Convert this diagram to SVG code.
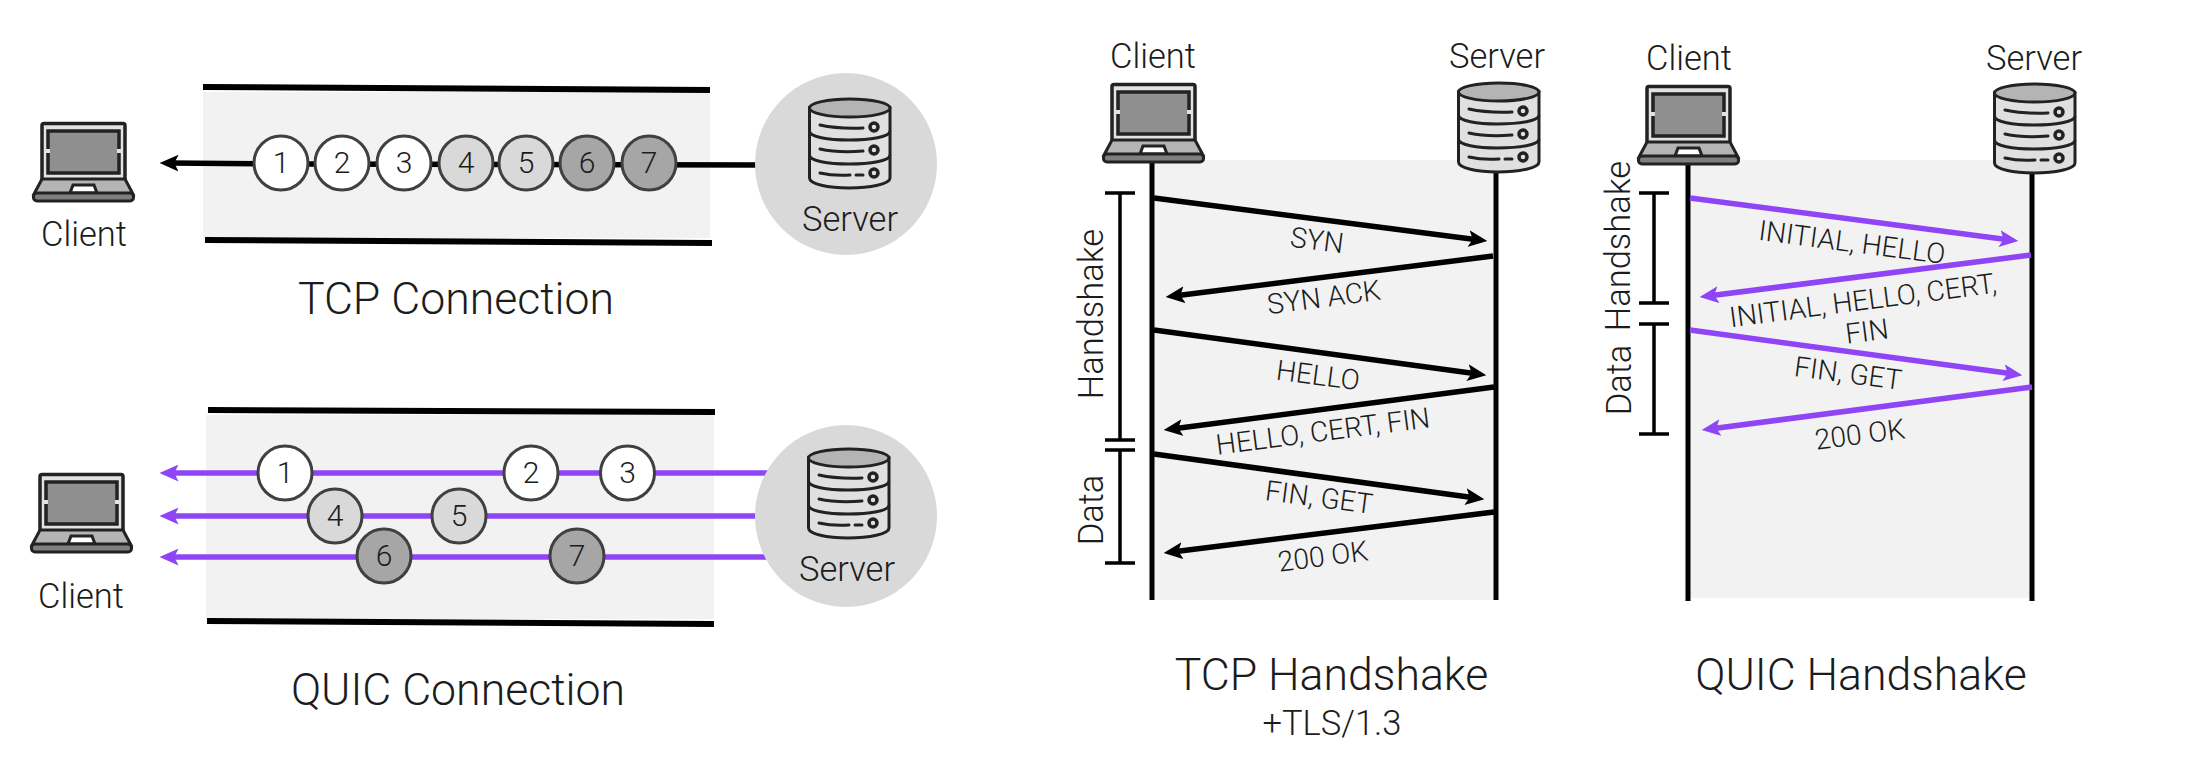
<svg xmlns="http://www.w3.org/2000/svg" xmlns:xlink="http://www.w3.org/1999/xlink" width="2198" height="759" viewBox="0 0 2198 759">
<style>
text{font-family:Roboto,"Liberation Sans",sans-serif;font-weight:300;fill:#1c1c1c;text-anchor:middle}
.t{font-size:44.600px}.l{font-size:34.500px}.n{font-size:30px}.m{font-size:28.200px}
.band{fill:#f2f2f2}
.wall{stroke:#000;stroke-width:6;fill:none}
.blk{stroke:#000;stroke-width:5.500;fill:none;marker-end:url(#ah)}
.pur{stroke:#8f45f5;stroke-width:5.500;fill:none;marker-end:url(#ap)}
.life{stroke:#000;stroke-width:5;fill:none}
.br{stroke:#000;stroke-width:3.500;fill:none}
.c1{fill:#fff;stroke:#404040;stroke-width:3}.c2{fill:#d9d9d9;stroke:#404040;stroke-width:3}.c3{fill:#a6a6a6;stroke:#404040;stroke-width:3}
.disc{fill:#d9d9d9}
</style>
<defs>
<marker id="ah" markerUnits="userSpaceOnUse" markerWidth="19" markerHeight="17" viewBox="0 0 18 16" refX="10" refY="8" orient="auto"><path d="M18 8L0 0L4 8L0 16Z" fill="#000"/></marker>
<marker id="ap" markerUnits="userSpaceOnUse" markerWidth="19" markerHeight="17" viewBox="0 0 18 16" refX="10" refY="8" orient="auto"><path d="M18 8L0 0L4 8L0 16Z" fill="#8f45f5"/></marker>
<symbol id="laptop" width="104" height="82" viewBox="0 0 104 82" overflow="visible">
<rect x="10" y="1.500" width="83" height="57" rx="2" fill="#e2e2e2" stroke="#222" stroke-width="3.500"/>
<rect x="16" y="9" width="71" height="42" fill="#8f8f8f" stroke="#222" stroke-width="3.500"/>
<path d="M16 27v4M87 27v4" stroke="#e2e2e2" stroke-width="4"/>
<path d="M10 57H93L101 72H2Z" fill="#b4b4b4" stroke="#222" stroke-width="3"/>
<path d="M38 71L41 63H62L65 71Z" fill="#fff" stroke="#222" stroke-width="3"/>
<rect x="1.500" y="71" width="100" height="8" rx="3.500" fill="#7f7f7f" stroke="#222" stroke-width="3"/>
</symbol>
<symbol id="server" width="84" height="92" viewBox="0 0 84 92" overflow="visible">
<path d="M1.500 10V80C1.500 86 20 90 41 90S82 86 82 80V10Z" fill="#e0e0e0" stroke="#222" stroke-width="3"/>
<ellipse cx="41.700" cy="10" rx="40.300" ry="9" fill="#b4b4b4" stroke="#222" stroke-width="3"/>
<path d="M1.500 33C1.500 39 20 42 41 42S82 39 82 33M1.500 57C1.500 63 20 66 41 66S82 63 82 57" fill="none" stroke="#222" stroke-width="3"/>
<path d="M12 27Q30 31 55 30M12 51Q30 55 55 53M12 75Q25 78 42 77M48 77H55" fill="none" stroke="#222" stroke-width="3" stroke-linecap="round"/>
<g fill="none" stroke="#222" stroke-width="3.500"><circle cx="66" cy="29" r="4"/><circle cx="66" cy="52" r="4"/><circle cx="66" cy="75" r="4"/></g>
</symbol>
</defs>

<g id="tcp-connection-band"><rect class="band" x="203" y="92" width="507" height="146"/><path class="wall" d="M203 87L710 90M205 240L712 243"/></g>
<g id="quic-connection-band"><rect class="band" x="206" y="415" width="508" height="204"/><path class="wall" d="M208 410L715 412M207 621L714 624"/></g>
<g id="tcp-handshake-band"><rect class="band" x="1152" y="160" width="344" height="440"/></g>
<g id="quic-handshake-band"><rect class="band" x="1688" y="160" width="344" height="438"/></g>

<g id="connectors">
<path class="blk" d="M770 165L300 164L168 163"/>
<path class="pur" d="M770 473H168"/>
<path class="pur" d="M770 516H168"/>
<path class="pur" d="M770 557H168"/>
<path class="life" d="M1152 163V600M1496 172V600M1688 164V601M2032 172V601"/>
<path class="br" d="M1105 193H1135M1120 193V440M1105 440H1135M1105 450H1135M1120 450V563M1105 563H1135"/>
<path class="br" d="M1639 193H1669M1654 193V303M1639 303H1669M1639 324H1669M1654 324V434M1639 434H1669"/>
<path class="blk" d="M1154 198L1479 240"/>
<path class="blk" d="M1493 256L1174 296"/>
<path class="blk" d="M1154 330L1478 374"/>
<path class="blk" d="M1494 387L1172 429"/>
<path class="blk" d="M1154 454L1476 498"/>
<path class="blk" d="M1494 512L1172 552"/>
<path class="pur" d="M1690 198L2010 240"/>
<path class="pur" d="M2031 255L1708 296"/>
<path class="pur" d="M1690 330L2014 374"/>
<path class="pur" d="M2032 387L1710 429"/>
</g>

<g id="tcp-client"><use href="#laptop" x="32" y="122"/><text class="l" x="84" y="246">Client</text></g>
<g id="tcp-server"><circle class="disc" cx="846" cy="164" r="91"/><use href="#server" x="808" y="98"/><text class="l" x="850" y="231">Server</text></g>
<g id="tcp-p1"><circle class="c1" cx="281" cy="163" r="27"/><text class="n" x="281" y="173">1</text></g>
<g id="tcp-p2"><circle class="c1" cx="342" cy="163" r="27"/><text class="n" x="342" y="173">2</text></g>
<g id="tcp-p3"><circle class="c1" cx="404" cy="163" r="27"/><text class="n" x="404" y="173">3</text></g>
<g id="tcp-p4"><circle class="c2" cx="466" cy="163" r="27"/><text class="n" x="466" y="173">4</text></g>
<g id="tcp-p5"><circle class="c2" cx="526" cy="163" r="27"/><text class="n" x="526" y="173">5</text></g>
<g id="tcp-p6"><circle class="c3" cx="587" cy="163" r="27"/><text class="n" x="587" y="173">6</text></g>
<g id="tcp-p7"><circle class="c3" cx="649" cy="163" r="27"/><text class="n" x="649" y="173">7</text></g>
<text class="t" x="456" y="314">TCP Connection</text>

<g id="quic-client"><use href="#laptop" x="30" y="473"/><text class="l" x="81" y="608">Client</text></g>
<g id="quic-server"><circle class="disc" cx="846" cy="516" r="91"/><use href="#server" x="807" y="448"/><text class="l" x="847" y="581">Server</text></g>
<g id="quic-p1"><circle class="c1" cx="285" cy="473" r="27"/><text class="n" x="285" y="483">1</text></g>
<g id="quic-p2"><circle class="c1" cx="531" cy="473" r="27"/><text class="n" x="531" y="483">2</text></g>
<g id="quic-p3"><circle class="c1" cx="627.500" cy="473" r="27"/><text class="n" x="627.500" y="483">3</text></g>
<g id="quic-p4"><circle class="c2" cx="335" cy="516" r="27"/><text class="n" x="335" y="526">4</text></g>
<g id="quic-p5"><circle class="c2" cx="459" cy="516" r="27"/><text class="n" x="459" y="526">5</text></g>
<g id="quic-p6"><circle class="c3" cx="384" cy="556" r="27"/><text class="n" x="384" y="566">6</text></g>
<g id="quic-p7"><circle class="c3" cx="577" cy="556" r="27"/><text class="n" x="577" y="566">7</text></g>
<text class="t" x="458" y="705">QUIC Connection</text>

<g id="tcphs-client"><use href="#laptop" x="1102" y="83"/><text class="l" x="1153" y="68">Client</text></g>
<g id="tcphs-server"><use href="#server" x="1457" y="82"/><text class="l" x="1497" y="68">Server</text></g>
<g id="quichs-client"><use href="#laptop" x="1637" y="85"/><text class="l" x="1689" y="70">Client</text></g>
<g id="quichs-server"><use href="#server" x="1993" y="83"/><text class="l" x="2034" y="70">Server</text></g>

<g id="labels">
<text class="l" transform="translate(1103 314) rotate(-90)">Handshake</text>
<text class="l" transform="translate(1103 510) rotate(-90)">Data</text>
<text class="l" transform="translate(1630 246) rotate(-90)">Handshake</text>
<text class="l" transform="translate(1631 380) rotate(-90)">Data</text>
<text class="m" transform="translate(1317 241) rotate(7.400)" y="9">SYN</text>
<text class="m" transform="translate(1324 298) rotate(-7.400)" y="9">SYN ACK</text>
<text class="m" transform="translate(1318 376) rotate(7.400)" y="9">HELLO</text>
<text class="m" transform="translate(1323 432) rotate(-7.400)" y="9">HELLO, CERT, FIN</text>
<text class="m" transform="translate(1319 498) rotate(7.400)" y="9">FIN, GET</text>
<text class="m" transform="translate(1323 557) rotate(-7.400)" y="9">200 OK</text>
<text class="m" transform="translate(1852 243) rotate(7.400)" y="9">INITIAL, HELLO</text>
<text class="m" transform="translate(1863 301) rotate(-7.400)" y="9">INITIAL, HELLO, CERT,</text>
<text class="m" transform="translate(1867 332) rotate(-7.400)" y="9">FIN</text>
<text class="m" transform="translate(1848 374) rotate(7.400)" y="9">FIN, GET</text>
<text class="m" transform="translate(1860 435) rotate(-7.400)" y="9">200 OK</text>
<text class="t" x="1331.500" y="690">TCP Handshake</text>
<text class="l" x="1332" y="735">+TLS/1.3</text>
<text class="t" x="1861" y="690">QUIC Handshake</text>
</g>
</svg>
